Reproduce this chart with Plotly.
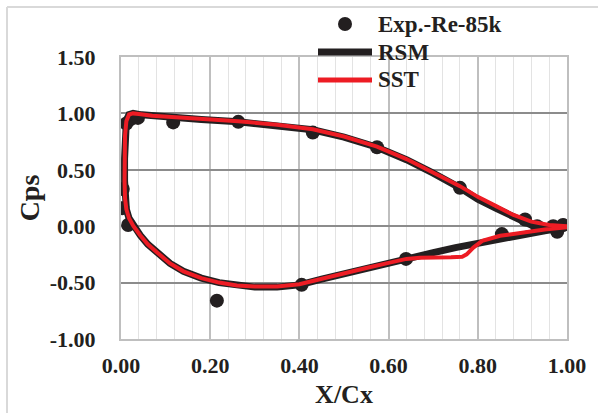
import plotly.graph_objects as go

# ---- Experimental data ----
exp_x = [0.004, 0.003, 0.016, 0.012, 0.022, 0.038, 0.117, 0.263, 0.43, 0.574, 0.76,
         0.906, 0.933, 0.969, 0.978, 0.991, 0.854, 0.639, 0.405, 0.215]
exp_cp = [0.33, 0.16, 0.01, 0.91, 0.95, 0.96, 0.92, 0.925, 0.83, 0.70, 0.34,
          0.06, 0.00, 0.00, -0.05, 0.01, -0.07, -0.29, -0.52, -0.66]

# ---- RSM curve (upper surface TE->LE, then lower surface LE->TE) ----
rsm_x = [1.00, 0.96, 0.92, 0.88, 0.84, 0.80, 0.76, 0.70, 0.64, 0.574, 0.50, 0.43, 0.35,
         0.263, 0.18, 0.12, 0.07, 0.04, 0.027, 0.018, 0.012, 0.009, 0.008, 0.008, 0.009,
         0.012, 0.018, 0.028, 0.043, 0.06, 0.083, 0.11, 0.14, 0.18, 0.22, 0.26, 0.30,
         0.35, 0.40, 0.45, 0.50, 0.55, 0.60, 0.64, 0.70, 0.75, 0.80, 0.85, 0.90, 0.95, 1.00]
rsm_cp = [0.00, -0.01, 0.01, 0.08, 0.16, 0.24, 0.34, 0.47, 0.59, 0.70, 0.79, 0.855, 0.895,
          0.925, 0.945, 0.96, 0.975, 0.99, 1.00, 0.99, 0.93, 0.80, 0.60, 0.40, 0.25,
          0.15, 0.07, 0.00, -0.08, -0.16, -0.24, -0.33, -0.40, -0.46, -0.50, -0.525, -0.54,
          -0.54, -0.52, -0.47, -0.42, -0.375, -0.33, -0.295, -0.235, -0.19, -0.15, -0.11,
          -0.075, -0.04, -0.01]

# ---- SST curve ----
sst_x = [1.00, 0.96, 0.92, 0.88, 0.84, 0.80, 0.76, 0.70, 0.64, 0.574, 0.50, 0.43, 0.35,
         0.263, 0.18, 0.12, 0.07, 0.04, 0.027, 0.018, 0.012, 0.009, 0.008, 0.008, 0.009,
         0.012, 0.018, 0.028, 0.043, 0.06, 0.083, 0.11, 0.14, 0.18, 0.22, 0.26, 0.30,
         0.35, 0.40, 0.45, 0.50, 0.55, 0.60, 0.64, 0.67, 0.70, 0.74, 0.765, 0.775, 0.79,
         0.81, 0.85, 0.90, 0.95, 1.00]
sst_cp = [0.00, 0.01, 0.04, 0.10, 0.18, 0.26, 0.355, 0.48, 0.595, 0.705, 0.795, 0.86, 0.90,
          0.93, 0.95, 0.965, 0.98, 0.995, 1.00, 0.99, 0.93, 0.80, 0.60, 0.40, 0.25,
          0.15, 0.07, 0.00, -0.08, -0.16, -0.24, -0.33, -0.40, -0.46, -0.50, -0.525, -0.535,
          -0.535, -0.515, -0.465, -0.415, -0.37, -0.325, -0.29, -0.28, -0.28, -0.275, -0.27,
          -0.25, -0.19, -0.13, -0.085, -0.055, -0.03, -0.01]

# ---- Axis ticks ----
x_ticks = [0.0, 0.2, 0.4, 0.6, 0.8, 1.0]
x_labels = ["0.00", "0.20", "0.40", "0.60", "0.80", "1.00"]
y_ticks = [-1.0, -0.5, 0.0, 0.5, 1.0, 1.5]
y_labels = ["-1.00", "-0.50", "0.00", "0.50", "1.00", "1.50"]

series_names = ["Exp.-Re-85k", "RSM", "SST"]
BLACK = "#231f20"
RED = "#ed1c24"
FONT = "Liberation Serif"

fig = go.Figure()
fig.add_trace(go.Scatter(x=exp_x, y=exp_cp, mode="markers", name=series_names[0],
                         marker=dict(color=BLACK, size=14), showlegend=False))
fig.add_trace(go.Scatter(x=rsm_x, y=rsm_cp, mode="lines", name=series_names[1],
                         line=dict(color=BLACK, width=7), showlegend=False))
fig.add_trace(go.Scatter(x=sst_x, y=sst_cp, mode="lines", name=series_names[2],
                         line=dict(color=RED, width=4), showlegend=False))

W, H = 598, 413
ml, mr, mt, mb = 121, 31, 57, 74
pw, ph = W - ml - mr, H - mt - mb

def px_x(p):
    return (p - ml) / pw

def px_y(p):
    return (H - mb - p) / ph

tick_font = dict(family=FONT, size=22, color=BLACK, weight="bold")

fig.update_layout(
    width=W, height=H,
    margin=dict(l=ml, r=mr, t=mt, b=mb, pad=0),
    paper_bgcolor="white", plot_bgcolor="white",
    font=dict(family=FONT, color=BLACK, size=22),
    showlegend=False,
    xaxis=dict(range=[0, 1], tickvals=x_ticks, ticktext=x_labels, automargin=False,
               showgrid=True, gridcolor="#bfbfbf", gridwidth=1.5,
               minor=dict(dtick=0.04, showgrid=True, gridcolor="#e3e3e3", gridwidth=1, tick0=0),
               showline=True, linecolor="#bfbfbf", linewidth=2, mirror=True,
               zeroline=False, ticks="", ticklabelstandoff=6,
               tickfont=tick_font,
               title=dict(text="X/Cx", standoff=7,
                          font=dict(family=FONT, size=26, color=BLACK, weight="bold"))),
    yaxis=dict(range=[-1, 1.5], tickvals=y_ticks, ticktext=y_labels, automargin=False,
               showgrid=True, gridcolor="#8c8c8c", gridwidth=1.5,
               showline=True, linecolor="#bfbfbf", linewidth=2, mirror=True,
               zeroline=False, ticks="", ticklabelstandoff=19,
               tickfont=tick_font,
               title=dict(text="Cps", standoff=2,
                          font=dict(family=FONT, size=28, color=BLACK, weight="bold"))),
)

# ---- legend (drawn in paper space) ----
leg_text_x = px_x(376)
leg_rows = [px_y(24), px_y(52), px_y(80)]
fig.add_shape(type="circle", xref="paper", yref="paper",
              x0=px_x(338), x1=px_x(352), y0=px_y(31), y1=px_y(17),
              fillcolor=BLACK, line=dict(color=BLACK, width=0))
fig.add_shape(type="line", xref="paper", yref="paper",
              x0=px_x(318), x1=px_x(372), y0=leg_rows[1], y1=leg_rows[1],
              line=dict(color=BLACK, width=7))
fig.add_shape(type="line", xref="paper", yref="paper",
              x0=px_x(318), x1=px_x(372), y0=leg_rows[2], y1=leg_rows[2],
              line=dict(color=RED, width=5))
for name, yy in zip(series_names, leg_rows):
    fig.add_annotation(text=name, xref="paper", yref="paper", x=leg_text_x, y=yy,
                       xanchor="left", yanchor="middle", showarrow=False,
                       font=dict(family=FONT, size=23, color=BLACK, weight="bold"))

# outer chart frame (top and left edges visible)
fig.add_shape(type="line", xref="paper", yref="paper",
              x0=px_x(7), x1=px_x(W + 5), y0=px_y(7), y1=px_y(7),
              line=dict(color="#d9d9d9", width=2))
fig.add_shape(type="line", xref="paper", yref="paper",
              x0=px_x(7), x1=px_x(7), y0=px_y(7), y1=px_y(H + 5),
              line=dict(color="#d9d9d9", width=2))

fig.write_html("out.html", config={"displayModeBar": False},
               post_script="document.body.style.margin='0';document.body.style.overflow='hidden';")
